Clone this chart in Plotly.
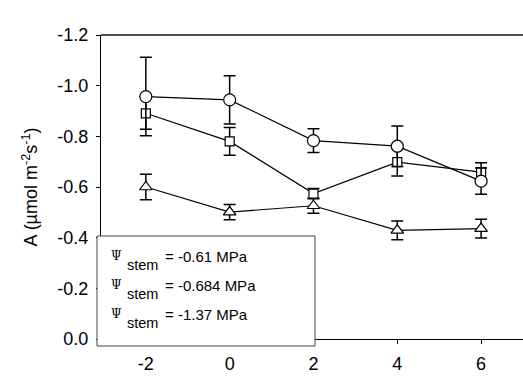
import plotly.graph_objects as go

# Time points (x) and net assimilation means with standard errors
x_vals = [-2, 0, 2, 4, 6]

a_circle = [-0.957, -0.944, -0.783, -0.761, -0.623]
e_circle = [0.155, 0.095, 0.047, 0.080, 0.052]

a_square = [-0.891, -0.780, -0.574, -0.698, -0.659]
e_square = [0.063, 0.055, 0.020, 0.055, 0.037]

a_triangle = [-0.600, -0.501, -0.526, -0.429, -0.436]
e_triangle = [0.050, 0.030, 0.030, 0.037, 0.037]

y_ticks = [0.0, -0.2, -0.4, -0.6, -0.8, -1.0, -1.2]
y_tick_text = ["0.0", "-0.2", "-0.4", "-0.6", "-0.8", "-1.0", "-1.2"]
x_ticks = [-2, 0, 2, 4, 6]
x_tick_text = ["-2", "0", "2", "4", "6"]

legend_values = ["= -0.61 MPa", "= -0.684 MPa", "= -1.37 MPa"]

FONT = "Liberation Sans, Arial, sans-serif"
W, H = 523, 379
L, R, T, B = 101, 0, 35, 40
PW, PH = W - L - R, H - T - B


def px_x(p):
    return (p - L) / PW


def px_y(p):
    return (H - B - p) / PH


fig = go.Figure()

series = [
    (a_triangle, e_triangle, "triangle-up", 11),
    (a_square, e_square, "square", 9),
    (a_circle, e_circle, "circle", 12),
]
for vals, errs, sym, size in series:
    fig.add_trace(go.Scatter(
        x=x_vals, y=vals, mode="lines+markers",
        line=dict(color="black", width=1.2),
        marker=dict(symbol=sym, size=size, color="white",
                    line=dict(color="black", width=1.2)),
        error_y=dict(type="data", array=errs, visible=True,
                     color="black", thickness=1.5, width=6),
        showlegend=False,
    ))

# Top frame line
fig.add_shape(type="line", xref="paper", yref="paper",
              x0=0, x1=1, y0=1, y1=1,
              line=dict(color="#111111", width=1.3), layer="above")

# Boxed key in the lower-left corner
fig.add_shape(type="rect", xref="paper", yref="paper",
              x0=px_x(97), x1=px_x(315), y0=px_y(346), y1=px_y(236),
              line=dict(color="#444", width=1), fillcolor="white",
              layer="above")

row_y = [256, 285, 314]
annotations = []
for ry, txt in zip(row_y, legend_values):
    annotations.append(dict(
        x=px_x(109), y=px_y(ry), xref="paper", yref="paper",
        text="Ψ", showarrow=False, xanchor="left", yanchor="middle",
        font=dict(family="DejaVu Serif, Times New Roman, serif", size=12, color="black")))
    annotations.append(dict(
        x=px_x(125), y=px_y(ry + 9), xref="paper", yref="paper",
        text="stem", showarrow=False, xanchor="left", yanchor="middle",
        font=dict(family=FONT, size=14.5, color="black")))
    annotations.append(dict(
        x=px_x(163), y=px_y(ry), xref="paper", yref="paper",
        text=txt, showarrow=False, xanchor="left", yanchor="middle",
        font=dict(family=FONT, size=15, color="black")))

fig.update_layout(
    width=W, height=H,
    margin=dict(l=L, r=R, t=T, b=B),
    paper_bgcolor="white", plot_bgcolor="white",
    font=dict(family=FONT, size=18, color="black"),
    annotations=annotations,
    xaxis=dict(
        range=[-3.07, 7.0], tickvals=x_ticks, ticktext=x_tick_text,
        showgrid=False, zeroline=False, showline=True, linecolor="black",
        linewidth=1.3, ticks="outside", ticklen=4,
        tickcolor="black", tickfont=dict(size=18), ticklabelstandoff=4,
    ),
    yaxis=dict(
        range=[0.0, -1.2], tickvals=y_ticks, ticktext=y_tick_text,
        showgrid=False, zeroline=False, showline=True, linecolor="black",
        linewidth=1.3, ticks="outside", ticklen=4, tickcolor="black",
        tickfont=dict(size=18), ticklabelstandoff=4,
        title=dict(text="A (µmol m<sup>-2</sup>s<sup>-1</sup>)",
                   font=dict(size=18), standoff=14),
    ),
)

fig.write_html("out.html")
